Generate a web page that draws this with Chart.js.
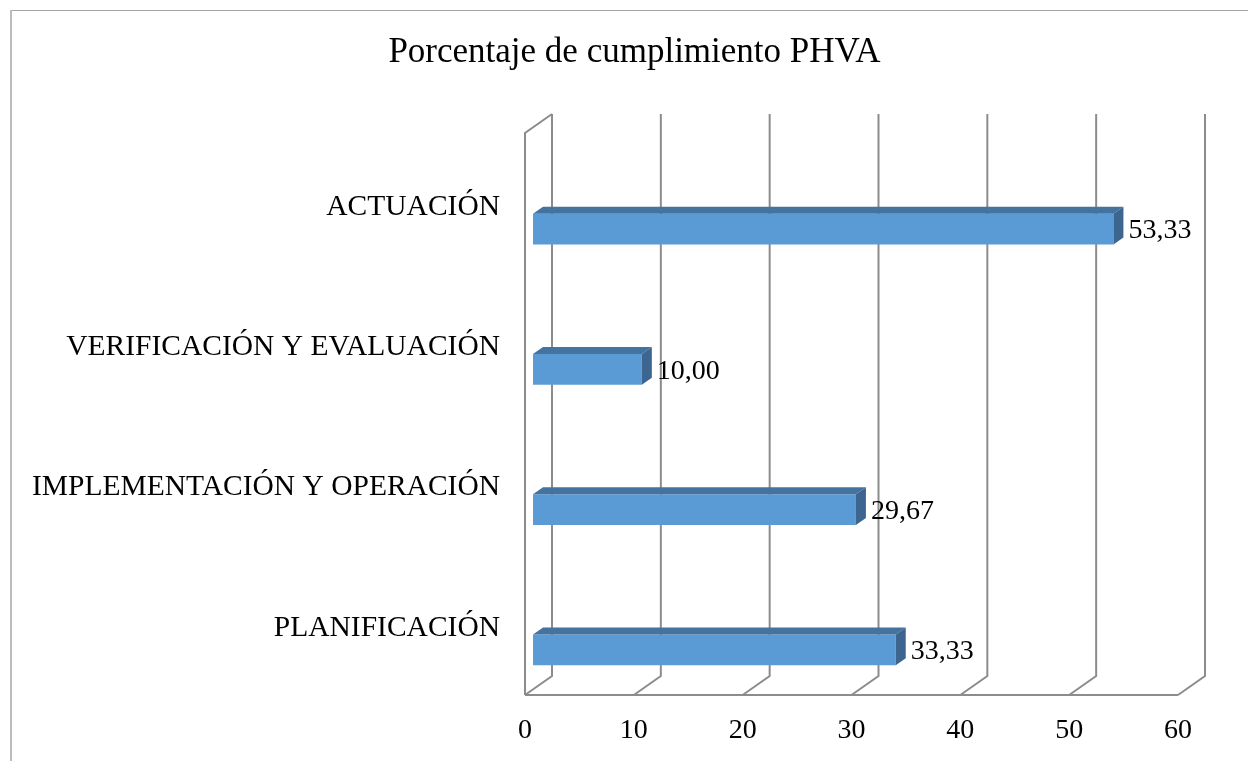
<!DOCTYPE html>
<html><head><meta charset="utf-8">
<script src="https://cdn.jsdelivr.net/npm/chart.js@4"></script>
<style>html,body{margin:0;padding:0;background:#fff;} #wrap{width:1248px;height:761px;position:relative;}</style>
</head><body><div id="wrap"><canvas id="c" width="1248" height="761"></canvas></div>
<script>
// ---- data ----
const categories = ['PLANIFICACIÓN', 'IMPLEMENTACIÓN Y OPERACIÓN', 'VERIFICACIÓN Y EVALUACIÓN', 'ACTUACIÓN'];
const values = [33.33, 29.67, 10.00, 53.33];
const xTickValues = [0, 10, 20, 30, 40, 50, 60];
const chartTitle = 'Porcentaje de cumplimiento PHVA';

const FONT = "'Liberation Serif', 'Times New Roman', serif";
const GRID = '#8c8c8c';

const fmt = v => v.toFixed(2).replace('.', ',');

const threeD = {
  id: 'threeD',
  beforeDraw(chart) {
    const ctx = chart.ctx;
    ctx.save();
    ctx.fillStyle = '#fff';
    ctx.fillRect(0, 0, chart.width, chart.height);
    ctx.strokeStyle = '#a5a5a5';
    ctx.lineWidth = 1.2;
    ctx.beginPath(); ctx.moveTo(10, 10.5); ctx.lineTo(chart.width + 5, 10.5); ctx.stroke();
    ctx.strokeStyle = '#bcbcbc';
    ctx.lineWidth = 2;
    ctx.beginPath(); ctx.moveTo(11, 10); ctx.lineTo(11, chart.height + 5); ctx.stroke();
    ctx.restore();
  },
  beforeDatasetsDraw(chart) {
    const ctx = chart.ctx, xs = chart.scales.x, a = chart.chartArea;
    const frontFloor = a.bottom - 25, backFloor = a.bottom - 44;
    const backTop = a.top - 45, frontTop = a.top - 26;
    const fx = v => xs.getPixelForValue(v) - 8;
    const bx = v => xs.getPixelForValue(v) + 19;
    ctx.save();
    ctx.strokeStyle = GRID;
    ctx.lineWidth = 2;
    // back wall verticals + floor diagonals
    xTickValues.forEach(v => {
      ctx.beginPath();
      ctx.moveTo(bx(v), backTop);
      ctx.lineTo(bx(v), backFloor);
      ctx.lineTo(fx(v), frontFloor);
      ctx.stroke();
    });
    // front floor edge
    ctx.beginPath();
    ctx.moveTo(fx(xTickValues[0]), frontFloor);
    ctx.lineTo(fx(xTickValues[xTickValues.length - 1]), frontFloor);
    ctx.stroke();
    // left side wall
    ctx.beginPath();
    ctx.moveTo(fx(0), frontFloor);
    ctx.lineTo(fx(0), frontTop);
    ctx.lineTo(bx(0), backTop);
    ctx.stroke();
    ctx.restore();
  },
  afterDatasetsDraw(chart) {
    const ctx = chart.ctx;
    const meta = chart.getDatasetMeta(0);
    const dx = 10, dy = 7;
    ctx.save();
    meta.data.forEach((bar, i) => {
      const top = bar.y - bar.height / 2, bottom = bar.y + bar.height / 2;
      const x0 = bar.base, x1 = bar.x;
      // top face
      ctx.fillStyle = '#44739f';
      ctx.beginPath();
      ctx.moveTo(x0, top); ctx.lineTo(x0 + dx, top - dy); ctx.lineTo(x1 + dx, top - dy); ctx.lineTo(x1, top);
      ctx.closePath(); ctx.fill();
      // side face
      ctx.fillStyle = '#3c6690';
      ctx.beginPath();
      ctx.moveTo(x1, top); ctx.lineTo(x1 + dx, top - dy); ctx.lineTo(x1 + dx, bottom - dy); ctx.lineTo(x1, bottom);
      ctx.closePath(); ctx.fill();
      // value label
      ctx.fillStyle = '#000';
      ctx.font = '28px ' + FONT;
      ctx.textAlign = 'left';
      ctx.textBaseline = 'middle';
      ctx.fillText(fmt(values[i]), x1 + 15, bar.y + 2);
    });
    ctx.restore();
  }
};

new Chart(document.getElementById('c'), {
  type: 'bar',
  data: {
    labels: categories,
    datasets: [{
      data: values,
      backgroundColor: '#5b9bd5',
      borderWidth: 0,
      barPercentage: 1,
      categoryPercentage: 0.2206,
      yAxisID: 'y'
    }]
  },
  options: {
    indexAxis: 'y',
    responsive: false,
    animation: false,
    layout: { padding: { left: 21, right: 0, top: 0, bottom: 0 } },
    plugins: {
      legend: { display: false },
      tooltip: { enabled: false },
      title: {
        display: true,
        text: chartTitle,
        color: '#000',
        font: { family: FONT, size: 35, weight: 'normal', lineHeight: 1.2 },
        padding: { top: 32, bottom: 85 }
      }
    },
    scales: {
      x: {
        type: 'linear',
        min: 0, max: 60,
        afterBuildTicks(scale) { scale.ticks = xTickValues.map(v => ({ value: v })); },
        afterFit(scale) { scale.height = 41; scale.paddingLeft = 0; scale.paddingRight = 0; },
        grid: { display: false, drawTicks: false },
        border: { display: false },
        ticks: {
          color: '#000',
          padding: -3,
          labelOffset: -8,
          maxRotation: 0,
          font: { family: FONT, size: 28, lineHeight: 1 }
        }
      },
      y: {
        reverse: true,
        afterFit(scale) { scale.width = 512; scale.paddingTop = 0; scale.paddingBottom = 0; },
        grid: { display: false, drawTicks: false },
        border: { display: false },
        ticks: {
          color: '#000',
          padding: 33,
          labelOffset: -22,
          font: { family: FONT, size: 29.5, lineHeight: 1.2 }
        }
      },
      yRight: {
        type: 'category',
        position: 'right',
        display: true,
        afterFit(scale) { scale.width = 62; scale.paddingTop = 0; scale.paddingBottom = 0; },
        grid: { display: false, drawTicks: false },
        border: { display: false },
        ticks: { display: false }
      }
    }
  },
  plugins: [threeD]
});
</script>
</body></html>
